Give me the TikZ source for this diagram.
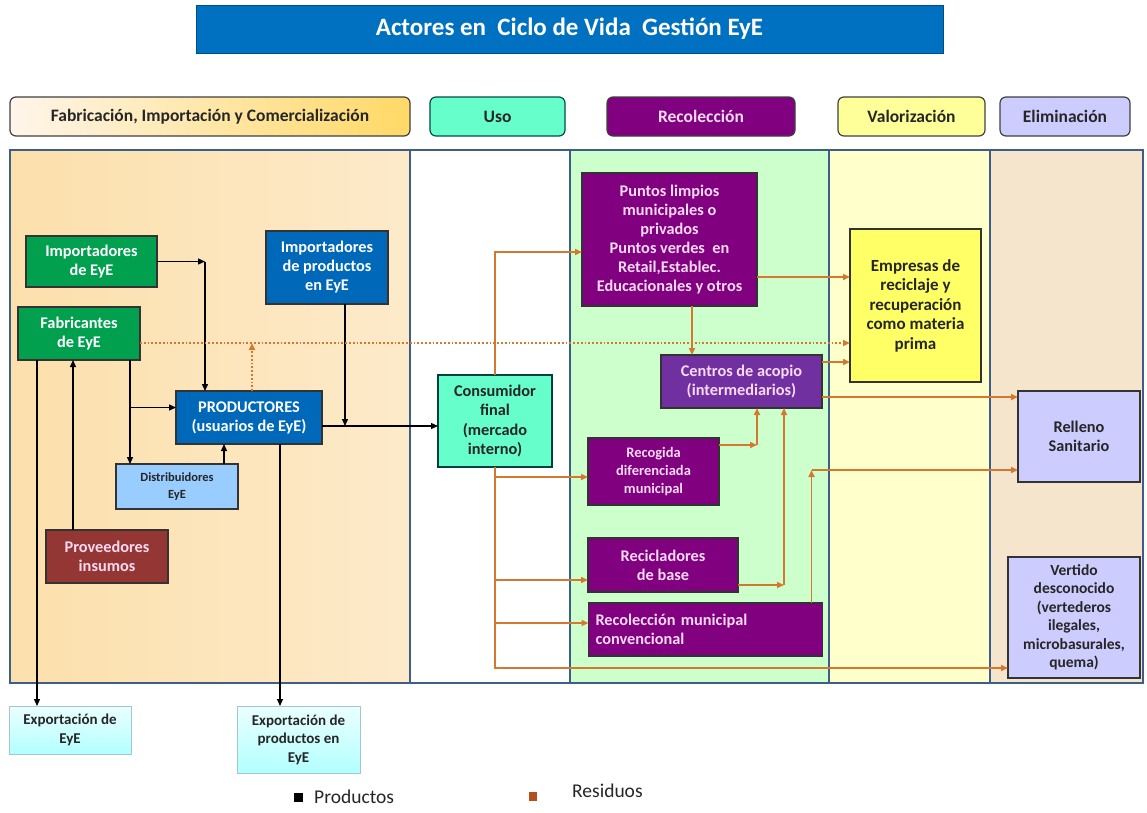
\documentclass[tikz,border=0pt]{standalone}
\usepackage{fontspec}
\setmainfont{Carlito}
\usetikzlibrary{arrows.meta,calc}
\definecolor{tblue}{HTML}{0070C0}
\definecolor{pblue}{HTML}{0068B8}
\definecolor{egreen}{HTML}{00A04F}
\definecolor{panelb}{HTML}{3F5E87}
\definecolor{orng}{HTML}{D4782F}
\definecolor{purp}{HTML}{800080}
\definecolor{purp2}{HTML}{7030A0}
\definecolor{aqua}{HTML}{66FFCC}
\definecolor{lyel}{HTML}{FFFF99}
\definecolor{yel}{HTML}{FFFF66}
\definecolor{lav}{HTML}{CCCCFF}
\definecolor{lgreen}{HTML}{CCFFCC}
\definecolor{pyel}{HTML}{FFFFCC}
\definecolor{beige}{HTML}{F4E5CC}
\definecolor{peach}{HTML}{FCE0AC}
\definecolor{peach2}{HTML}{FDEACA}
\definecolor{dred}{HTML}{943634}
\definecolor{ltblue}{HTML}{99CCFF}
\definecolor{pinkt}{HTML}{F8DAF2}
\definecolor{dtext}{HTML}{262626}
\definecolor{legor}{HTML}{B5501E}
\tikzset{
  fnt/.style 2 args={font=\fontsize{#1}{#2}\selectfont\bfseries},
  hdr/.style={draw=black!75, line width=1.2pt, rounded corners=6pt, inner sep=0pt, outer sep=0pt, align=center, text=dtext, fnt={17.5}{20}},
  box/.style={draw=black!80, line width=1.3pt, inner sep=0pt, outer sep=0pt, align=center, fnt={16.3}{19}},
  pa/.style={draw=black, line width=1.3pt, -{Triangle[length=7pt,width=6pt]}},
  ra/.style={draw=orng, line width=1.6pt, -{Triangle[length=7pt,width=6pt]}},
  rd/.style={draw=orng, line width=1.8pt, dotted, -{Triangle[length=7pt,width=6pt]}},
  panel/.style={draw=panelb, line width=2.5pt}
}
\begin{document}
\begin{tikzpicture}[x=1pt,y=-1pt]
\useasboundingbox (0,0) rectangle (1147,812);
\fill[white] (0,0) rectangle (1147,812);
% title
\node[draw=tblue!70!black, line width=0.8pt, fill=tblue, text=white, minimum width=747, minimum height=48, inner sep=0pt, fnt={25}{28}] (title) at (569.5,29) {Actores en\ \ Ciclo de Vida\ \ Gestión EyE};
% headers
\node[hdr, left color=orange!8, right color=orange!50!yellow!60, minimum width=400, minimum height=39] (h1) at (210,116.5) {Fabricación, Importación y Comercialización};
\node[hdr, fill=aqua, draw=teal!60!black, minimum width=135, minimum height=39] (h2) at (497.5,116.5) {Uso};
\node[hdr, fill=purp, text=pinkt, minimum width=188, minimum height=39] (h3) at (701,116.5) {Recolección};
\node[hdr, fill=lyel, minimum width=147, minimum height=39] (h4) at (911.5,116.5) {Valorización};
\node[hdr, fill=lav, minimum width=130, minimum height=39] (h5) at (1065,116.5) {Eliminación};
% panels
\shade[left color=peach, right color=peach2] (10,150) rectangle (410,683);
\fill[white] (410,150) rectangle (570,683);
\fill[lgreen] (570,150) rectangle (829,683);
\fill[pyel] (829,150) rectangle (990,683);
\fill[beige] (990,150) rectangle (1143,683);
\draw[panel] (10,150) rectangle (410,683);
\draw[panel] (410,150) rectangle (570,683);
\draw[panel] (570,150) rectangle (829,683);
\draw[panel] (829,150) rectangle (990,683);
\draw[panel] (990,150) rectangle (1143,683);
% nodes
\node[box, fill=egreen, text=white, minimum width=131, minimum height=51] (impE) at (91.5,261.5) {Importadores\\de EyE};
\node[box, fill=pblue, text=white, minimum width=122, minimum height=73] (impP) at (327,267.5) {Importadores\\de productos\\en EyE};
\node[box, fill=egreen, text=white, minimum width=122, minimum height=53] (fab) at (79,333.5) {Fabricantes\\de EyE};
\node[box, fill=pblue, text=white, minimum width=146, minimum height=53] (prod) at (249,417.5) {PRODUCTORES\\(usuarios de EyE)};
\node[box, fill=ltblue, text=dtext, minimum width=122, minimum height=45, fnt={12.5}{17}] (dist) at (177,486.5) {Distribuidores\\EyE};
\node[box, fill=dred, text=pinkt, minimum width=122, minimum height=53] (prov) at (107,556.5) {Proveedores\\insumos};
\node[box, draw=cyan!40!gray!60, line width=1pt, top color=cyan!8, bottom color=cyan!30, text=dtext, minimum width=122, minimum height=48, fnt={15}{18.5}] (expE) at (70,730) {Exportación de\\EyE};
\node[box, draw=cyan!40!gray!60, line width=1pt, top color=cyan!8, bottom color=cyan!30, text=dtext, minimum width=123, minimum height=67, fnt={15}{18.5}] (expP) at (298.5,739.5) {Exportación de\\productos en\\EyE};
\node[box, fill=aqua, draw=teal!50!black, text=dtext, minimum width=114, minimum height=92, fnt={16.3}{19.5}] (cons) at (495,421) {Consumidor\\final\\(mercado\\interno)};
\node[box, fill=purp, text=pinkt, minimum width=175, minimum height=133] (pun) at (669.5,239.5) {Puntos limpios\\municipales o\\privados\\Puntos verdes\ \ en\\Retail,Establec.\\Educacionales y otros};
\node[box, fill=purp2, text=pinkt, minimum width=161, minimum height=53] (cen) at (741.5,381.5) {Centros de acopio\\(intermediarios)};
\node[box, fill=purp, text=pinkt, minimum width=131, minimum height=67, fnt={14.5}{18}] (rec) at (653.5,471.5) {Recogida\\diferenciada\\municipal};
\node[box, fill=purp, text=pinkt, minimum width=150, minimum height=54] (recb) at (663,565) {Recicladores\\de base};
\node[box, fill=purp, text=pinkt, text width=220, inner xsep=7pt, minimum height=53, align=left] (recm) at (705.5,629.5) {Recolección municipal\\convencional};
\node[box, fill=yel, text=dtext, minimum width=131, minimum height=153, fnt={17}{19.5}] (emp) at (915.5,305.5) {Empresas de\\reciclaje y\\recuperación\\como materia\\prima};
\node[box, fill=lav, text=dtext, minimum width=122, minimum height=91] (rel) at (1079,436.5) {Relleno\\Sanitario};
\node[box, fill=lav, text=dtext, minimum width=132, minimum height=121, fnt={15.5}{18.5}] (ver) at (1074,617.5) {Vertido\\desconocido\\(vertederos\\ilegales,\\microbasurales,\\quema)};
% product connectors
\coordinate (k1) at (205,261.5);
\draw[pa] (impE.east) -- (k1);
\draw[pa] (k1) -- (k1 |- prod.north);
\coordinate (f1) at ([xshift=19pt]fab.south west);
\draw[pa] (f1) -- (f1 |- expE.north);
\coordinate (pv) at ([xshift=27pt]prov.north west);
\draw[pa] (pv) -- (pv |- fab.south);
\coordinate (f2) at ([xshift=112pt]fab.south west);
\coordinate (b1) at ([yshift=10pt]prod.west);
\draw[pa] (f2) -- (f2 |- dist.north);
\draw[pa] (f2 |- b1) -- (b1);
\coordinate (d1) at ([xshift=108pt]dist.north west);
\draw[pa] (d1) -- (d1 |- prod.south);
\coordinate (ip) at ([xshift=79pt]impP.south west);
\coordinate (pe) at ([yshift=-8.5pt]prod.east);
\draw[pa] (pe) -- (pe -| cons.west);
\draw[pa] (ip) -- (ip |- pe);
\coordinate (p2) at ([xshift=104pt]prod.south west);
\draw[pa] (p2) -- (p2 |- expP.north);
% residue connectors
\coordinate (fd) at ([yshift=-9.5pt]fab.east);
\draw[rd] (fd) -- (fd -| emp.west);
\coordinate (p3) at ([xshift=76pt]prod.north west);
\draw[rd] (p3) -- (p3 |- fd);
\coordinate (pw) at ([yshift=-12.5pt]pun.west);
\draw[ra] (cons.north) |- (pw);
\coordinate (pe2) at ([yshift=-37.5pt]pun.east);
\draw[ra] (pe2) -- (pe2 -| emp.west);
\coordinate (pb) at ([xshift=110pt]pun.south west);
\draw[ra] (pb) -- (pb |- cen.north);
\coordinate (ce1) at ([yshift=19.5pt]cen.east);
\draw[ra] (ce1) -- (ce1 -| emp.west);
\coordinate (ce2) at ([yshift=-15.5pt]cen.east);
\draw[ra] (ce2) -- (ce2 -| rel.west);
\coordinate (re) at ([yshift=26.5pt]rec.east);
\coordinate (cs1) at ([xshift=96pt]cen.south west);
\draw[ra] (re) -- (re -| cs1);
\draw[ra] (re -| cs1) -- (cs1);
\coordinate (rb) at ([yshift=-20pt]recb.east);
\coordinate (cs2) at ([xshift=123pt]cen.south west);
\draw[ra] (rb) -- (rb -| cs2);
\draw[ra] (rb -| cs2) -- (cs2);
\coordinate (rw) at ([yshift=-33.5pt]rel.west);
\coordinate (rm) at ([xshift=223pt]recm.north west);
\draw[ra] (rm) -- (rm |- rw);
\draw[ra] (rm |- rw) -- (rw);
\coordinate (vw) at ([yshift=-50.5pt]ver.west);
\draw[ra] (cons.south) |- (vw);
\coordinate (rw1) at ([yshift=-5.5pt]rec.west);
\draw[ra] (cons.south |- rw1) -- (rw1);
\coordinate (rw2) at ([yshift=-15pt]recb.west);
\draw[ra] (cons.south |- rw2) -- (rw2);
\coordinate (rw3) at ([yshift=6.5pt]recm.west);
\draw[ra] (cons.south |- rw3) -- (rw3);
% legend
\fill[black] (294,793) rectangle (303,802);
\node[anchor=west, text=black!85, font=\fontsize{19.5}{22}\selectfont, inner sep=0pt] (lp) at (314,797) {Productos};
\fill[legor] (529,792) rectangle (537,801);
\node[anchor=west, text=black!85, font=\fontsize{19.5}{22}\selectfont, inner sep=0pt] (lr) at (572,791) {Residuos};
\end{tikzpicture}
\end{document}
